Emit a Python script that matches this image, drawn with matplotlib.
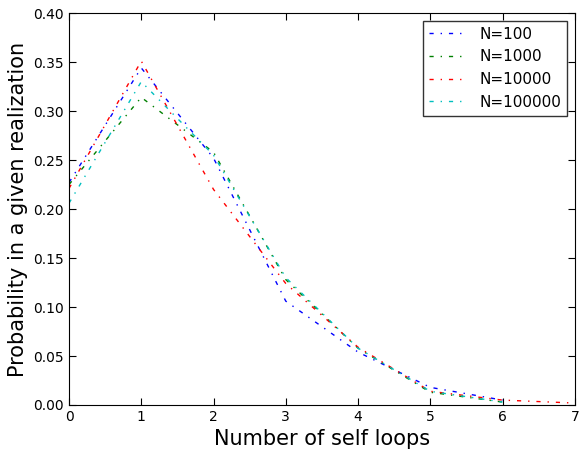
import matplotlib
matplotlib.use('Agg')
import matplotlib.pyplot as plt

loops_short = [0, 1, 2, 3, 4, 5, 6]
loops_long = [0, 1, 2, 3, 4, 5, 6, 7]

p_100 = [0.227, 0.344, 0.252, 0.106, 0.054, 0.018, 0.005]
p_1000 = [0.225, 0.314, 0.258, 0.128, 0.058, 0.013, 0.003]
p_10000 = [0.221, 0.351, 0.220, 0.124, 0.059, 0.014, 0.005, 0.002]
p_100000 = [0.206, 0.330, 0.255, 0.130, 0.058, 0.014, 0.003]

labels = ['N=100', 'N=1000', 'N=10000', 'N=100000']

# old-style dash-dot pattern, not scaled with line width
plt.rcParams['lines.dashdot_pattern'] = [3, 5, 1, 5]
plt.rcParams['lines.scale_dashes'] = False

fig = plt.figure(figsize=(5.8, 4.51), dpi=100)
ax = fig.add_axes([0.119, 0.102, 0.872, 0.869])

ax.plot(loops_short, p_100, 'b-.', lw=1.0, label=labels[0])
ax.plot(loops_short, p_1000, 'g-.', lw=1.0, label=labels[1])
ax.plot(loops_long, p_10000, 'r-.', lw=1.0, label=labels[2])
ax.plot(loops_short, p_100000, 'c-.', lw=1.0, label=labels[3])

ax.set_xlim(0, 7)
ax.set_ylim(0, 0.40)
ax.set_yticks([0.0, 0.05, 0.10, 0.15, 0.20, 0.25, 0.30, 0.35, 0.40])
ax.set_yticklabels(['%.2f' % v for v in ax.get_yticks()])
ax.tick_params(direction='in', top=True, right=True, labelsize=10, length=5)
ax.set_xlabel('Number of self loops', fontsize=15)
ax.set_ylabel('Probability in a given realization', fontsize=15)

leg = ax.legend(loc='upper right', fontsize=11, fancybox=False, handlelength=2.5)
leg.get_frame().set_edgecolor('black')

fig.savefig('out.png')
